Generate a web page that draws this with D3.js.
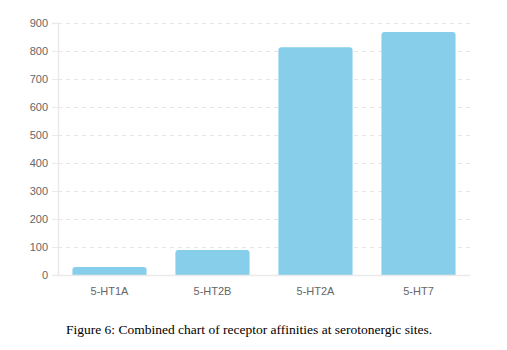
<!DOCTYPE html>
<html>
<head>
<meta charset="utf-8">
<script src="https://cdn.jsdelivr.net/npm/d3@7"></script>
<style>
  html, body { margin: 0; padding: 0; background: #fff; }
  svg { display: block; }
</style>
</head>
<body>
<svg id="chart" width="507" height="350"></svg>
<script>
// Receptor affinities at serotonergic sites
const receptors = ["5-HT1A", "5-HT2B", "5-HT2A", "5-HT7"];
const affinities = [29, 89, 813, 868];
const yTicks = [0, 100, 200, 300, 400, 500, 600, 700, 800, 900];
const caption = "Figure 6: Combined chart of receptor affinities at serotonergic sites.";

const svg = d3.select("#chart");
const margin = { left: 58, right: 37, top: 23, bottom: 75 };
const W = 507, H = 350;

const x = d3.scaleBand()
  .domain(receptors)
  .range([margin.left, W - margin.right])
  .paddingInner(0.28)
  .paddingOuter(0.14);

const y = d3.scaleLinear()
  .domain([0, 900])
  .range([H - margin.bottom, margin.top]);

// dashed horizontal grid
svg.append("g")
  .selectAll("line")
  .data(yTicks.filter(d => d > 0))
  .join("line")
  .attr("x1", margin.left)
  .attr("x2", W - margin.right)
  .attr("y1", d => y(d) + 0.5)
  .attr("y2", d => y(d) + 0.5)
  .attr("stroke", "#e6e6e6")
  .attr("stroke-width", 1)
  .attr("stroke-dasharray", "4,4");

// y axis
const yAxis = svg.append("g")
  .attr("transform", `translate(${margin.left},0)`)
  .call(d3.axisLeft(y).tickValues(yTicks).tickSize(6).tickPadding(4));
yAxis.select(".domain").attr("stroke", "#eaeaea").attr("stroke-width", 1.5);
yAxis.selectAll(".tick line").attr("stroke", "#eaeaea");
yAxis.selectAll(".tick text")
  .attr("fill", "#666")
  .style("font-family", "'Liberation Sans', Arial, sans-serif")
  .style("font-size", "11px");

// bars with rounded tops
const r = 3;
svg.append("g")
  .selectAll("path")
  .data(receptors.map((c, i) => ({ c, v: affinities[i] })))
  .join("path")
  .attr("fill", "#87ceeb")
  .attr("d", d => {
    const x0 = x(d.c), x1 = x0 + x.bandwidth();
    const y0 = y(0), y1 = y(d.v);
    const rr = Math.min(r, (y0 - y1) / 2);
    return `M${x0},${y0}V${y1 + rr}Q${x0},${y1} ${x0 + rr},${y1}` +
           `H${x1 - rr}Q${x1},${y1} ${x1},${y1 + rr}V${y0}Z`;
  });

// x axis
const xAxis = svg.append("g")
  .attr("transform", `translate(0,${y(0)})`)
  .call(d3.axisBottom(x).tickSize(0).tickPadding(12));
xAxis.select(".domain").attr("stroke", "#eaeaea").attr("stroke-width", 1.5);
xAxis.selectAll(".tick text")
  .attr("fill", "#666")
  .style("font-family", "'Liberation Sans', Arial, sans-serif")
  .style("font-size", "11px");

// caption
svg.append("text")
  .attr("x", 249)
  .attr("y", 334)
  .attr("text-anchor", "middle")
  .attr("fill", "#000")
  .style("font-family", "'Liberation Serif', 'Times New Roman', serif")
  .style("font-size", "13.5px")
  .text(caption);
</script>
</body>
</html>
